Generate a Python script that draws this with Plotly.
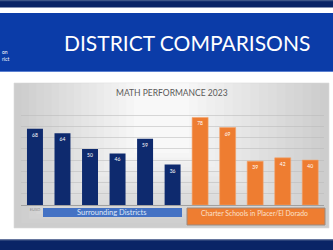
import plotly.graph_objects as go

# ---- data ----
district_cats = ["EUSD", "District 2", "District 3", "District 4", "District 5", "District 6"]
district_vals = [68, 64, 50, 46, 59, 36]
charter_cats = ["Charter 1", "Charter 2", "Charter 3", "Charter 4", "Charter 5"]
charter_vals = [78, 69, 39, 42, 40]
tick_labels = {"EUSD": "EUSD"}
group_labels = ["Surrounding Districts", "Charter Schools in Placer/El Dorado"]
slide_title = "DISTRICT COMPARISONS"
chart_title = "MATH PERFORMANCE 2023"

W, H = 333, 250
def px(x):
    return x / W
def py(y):
    return 1 - y / H

NAVY = "#0a2466"
ORANGE = "#ee7d31"
BLUE_BAR = "#0b3ca8"

fig = go.Figure()
fig.add_trace(go.Bar(
    x=district_cats, y=district_vals, marker=dict(color="#0e2a6e", line=dict(width=0)),
    text=district_vals, textposition="inside", insidetextanchor="end",
    textfont=dict(color="white", size=5, family="Lato"), constraintext="none",
    hoverinfo="skip"))
fig.add_trace(go.Bar(
    x=charter_cats, y=charter_vals, marker=dict(color=ORANGE, line=dict(width=0.6, color="#f3a46c")),
    text=charter_vals, textposition="inside", insidetextanchor="end",
    textfont=dict(color="white", size=5, family="Lato"), constraintext="none",
    hoverinfo="skip"))

shapes = []
# top navy band
shapes.append(dict(type="rect", xref="paper", yref="paper", x0=0, x1=1, y0=py(7.5), y1=1,
                   fillcolor=NAVY, line=dict(width=0), layer="below"))
shapes.append(dict(type="rect", xref="paper", yref="paper", x0=0, x1=1, y0=py(1.2), y1=1,
                   fillcolor="#3d5587", line=dict(width=0), layer="below"))
# blue title bar
shapes.append(dict(type="rect", xref="paper", yref="paper", x0=0, x1=1, y0=py(72), y1=py(13),
                   fillcolor=BLUE_BAR, line=dict(width=0), layer="below"))
shapes.append(dict(type="rect", xref="paper", yref="paper", x0=0, x1=1, y0=py(72), y1=py(71),
                   fillcolor="#5a7fd0", line=dict(width=0), layer="below"))
# bottom navy band
shapes.append(dict(type="rect", xref="paper", yref="paper", x0=0, x1=1, y0=0, y1=py(239.5),
                   fillcolor=NAVY, line=dict(width=0), layer="below"))
shapes.append(dict(type="rect", xref="paper", yref="paper", x0=0, x1=1, y0=py(240.5), y1=py(239.5),
                   fillcolor="#4a5f8c", line=dict(width=0), layer="below"))
# chart panel with layered gradient (smooth steps)
shapes.append(dict(type="rect", xref="paper", yref="paper", x0=px(14), x1=px(329), y0=py(228), y1=py(83),
                   fillcolor="#cdcdcd", line=dict(width=0.6, color="#dadada"), layer="below"))
steps = 16
for i in range(1, steps + 1):
    f = i / steps
    l = 14 + f * 120
    r = 329 - f * 140
    b = 228 - f * 75
    g = int(205 + f * 43)
    shapes.append(dict(type="rect", xref="paper", yref="paper", x0=px(l), x1=px(r), y0=py(b), y1=py(83.5),
                       fillcolor=f"rgb({g},{g},{g})", line=dict(width=0), layer="below"))
# group label boxes
shapes.append(dict(type="rect", xref="paper", yref="paper", x0=px(43), x1=px(182), y0=py(217), y1=py(208),
                   fillcolor="#4472c4", line=dict(width=0)))
shapes.append(dict(type="rect", xref="paper", yref="paper", x0=px(187), x1=px(325), y0=py(225), y1=py(208),
                   fillcolor=ORANGE, line=dict(width=1, color="#9a8a80")))

annotations = [
    dict(text=slide_title, x=px(187), y=py(43), xref="paper", yref="paper", showarrow=False,
         font=dict(color="white", size=21, family="Lato"), xanchor="center", yanchor="middle"),
    dict(text=chart_title, x=px(172), y=py(93), xref="paper", yref="paper", showarrow=False,
         font=dict(color="#595959", size=8.5, family="Lato"), xanchor="center", yanchor="middle"),
    dict(text=group_labels[0], x=px(112), y=py(212.5), xref="paper", yref="paper", showarrow=False,
         font=dict(color="#dfe7f8", size=7.5, family="Lato"), xanchor="center", yanchor="middle"),
    dict(text=group_labels[1], x=px(255), y=py(212.5), xref="paper", yref="paper", showarrow=False,
         font=dict(color="#fbe0cc", size=6.8, family="Lato"), xanchor="center", yanchor="middle"),
    dict(text="on<br>rict", x=0, y=py(56), xref="paper", yref="paper", showarrow=False,
         font=dict(color="white", size=5, family="Lato"), xanchor="left", yanchor="middle", align="left"),
]

fig.update_layout(
    width=W, height=H, margin=dict(l=0, r=0, t=0, b=0),
    paper_bgcolor="white", plot_bgcolor="rgba(0,0,0,0)",
    barmode="overlay", bargap=0.42, showlegend=False,
    shapes=shapes, annotations=annotations,
    xaxis=dict(domain=[px(21.2), px(324)], type="category",
               categoryorder="array", categoryarray=district_cats + charter_cats,
               tickvals=list(tick_labels.keys()), ticktext=list(tick_labels.values()),
               tickfont=dict(size=4, color="#8c8c8c", family="Lato"),
               showline=True, linecolor="#a0a0a0", linewidth=1, ticks="", showgrid=False),
    yaxis=dict(domain=[py(205), py(104)], range=[0, 90], dtick=10, showticklabels=False,
               showgrid=True, gridcolor="rgba(185,185,185,0.55)", gridwidth=0.6, zeroline=False),
)

fig.write_html("out.html", config={"displayModeBar": False},
               post_script="document.body.style.margin='0';document.body.style.overflow='hidden';")
